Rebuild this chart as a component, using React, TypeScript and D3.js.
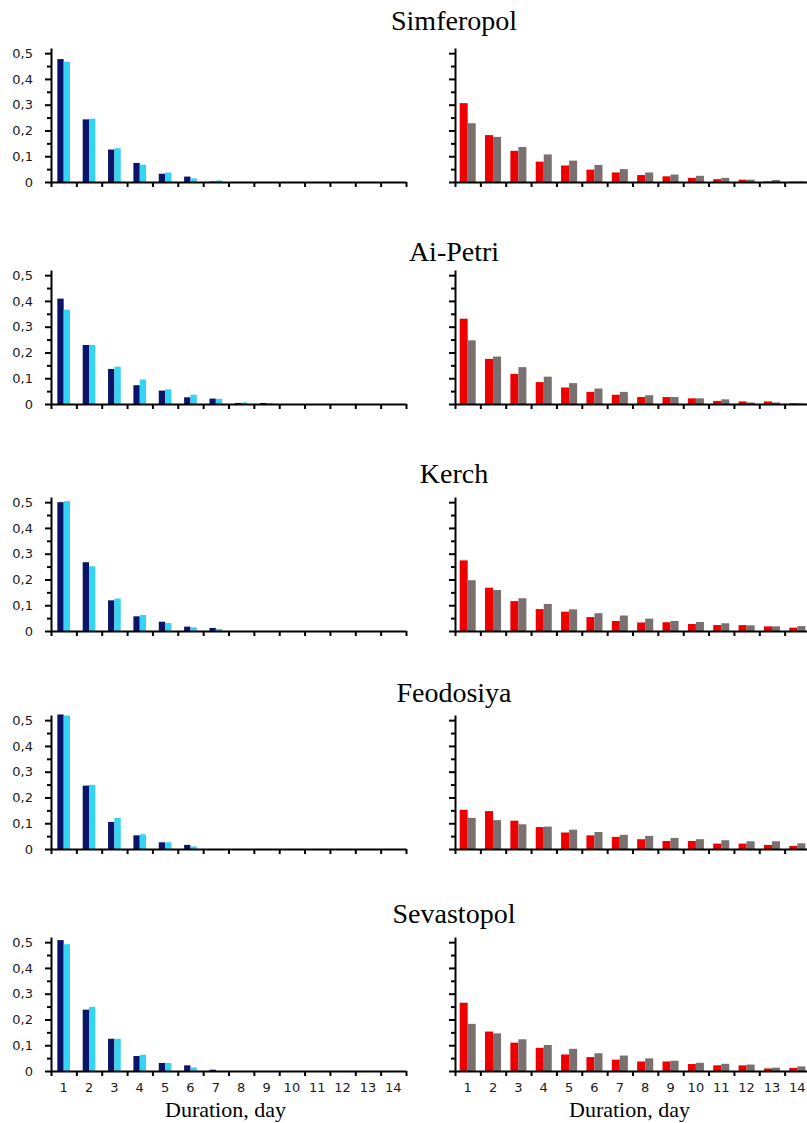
import { useRef, useEffect } from 'react';
import * as d3 from 'd3';

const days = [1, 2, 3, 4, 5, 6, 7, 8, 9, 10, 11, 12, 13, 14];
const stations = ['Simferopol', 'Ai-Petri', 'Kerch', 'Feodosiya', 'Sevastopol'];
const yTicks = [0, 0.05, 0.1, 0.15, 0.2, 0.25, 0.3, 0.35, 0.4, 0.45, 0.5];

// left panels: navy / cyan
const simferopolNavy = [0.477, 0.243, 0.126, 0.074, 0.032, 0.021, 0.002, 0, 0, 0, 0, 0, 0, 0];
const simferopolCyan = [0.467, 0.246, 0.131, 0.067, 0.037, 0.014, 0.006, 0, 0, 0, 0, 0, 0, 0];
const aiPetriNavy = [0.409, 0.229, 0.136, 0.073, 0.052, 0.026, 0.021, 0.004, 0.004, 0, 0, 0, 0, 0];
const aiPetriCyan = [0.366, 0.229, 0.145, 0.095, 0.057, 0.036, 0.02, 0.006, 0.003, 0, 0, 0, 0, 0];
const kerchNavy = [0.5, 0.267, 0.119, 0.057, 0.036, 0.017, 0.012, 0, 0, 0, 0, 0, 0, 0];
const kerchCyan = [0.504, 0.251, 0.126, 0.062, 0.031, 0.014, 0.008, 0, 0, 0, 0, 0, 0, 0];
const feodosiyaNavy = [0.522, 0.246, 0.105, 0.053, 0.026, 0.016, 0, 0, 0, 0, 0, 0, 0, 0];
const feodosiyaCyan = [0.518, 0.249, 0.121, 0.057, 0.026, 0.01, 0, 0, 0, 0, 0, 0, 0, 0];
const sevastopolNavy = [0.508, 0.238, 0.125, 0.058, 0.031, 0.022, 0.005, 0, 0, 0, 0, 0, 0, 0];
const sevastopolCyan = [0.492, 0.249, 0.125, 0.063, 0.031, 0.014, 0, 0, 0, 0, 0, 0, 0, 0];

// right panels: red / gray
const simferopolRed = [0.306, 0.182, 0.121, 0.079, 0.064, 0.048, 0.037, 0.027, 0.022, 0.016, 0.011, 0.009, 0.002, 0.001];
const simferopolGray = [0.228, 0.175, 0.136, 0.107, 0.083, 0.066, 0.05, 0.037, 0.029, 0.024, 0.016, 0.009, 0.008, 0.002];
const aiPetriRed = [0.331, 0.175, 0.117, 0.085, 0.064, 0.047, 0.036, 0.027, 0.027, 0.022, 0.012, 0.01, 0.01, 0.003];
const aiPetriGray = [0.247, 0.184, 0.143, 0.106, 0.081, 0.06, 0.047, 0.034, 0.027, 0.022, 0.018, 0.006, 0.006, 0.002];
const kerchRed = [0.274, 0.168, 0.116, 0.085, 0.075, 0.054, 0.039, 0.033, 0.034, 0.027, 0.023, 0.023, 0.018, 0.013];
const kerchGray = [0.197, 0.159, 0.127, 0.105, 0.084, 0.069, 0.06, 0.048, 0.039, 0.035, 0.03, 0.022, 0.018, 0.019];
const feodosiyaRed = [0.152, 0.147, 0.11, 0.085, 0.064, 0.053, 0.047, 0.038, 0.031, 0.031, 0.021, 0.021, 0.016, 0.012];
const feodosiyaGray = [0.121, 0.112, 0.096, 0.087, 0.075, 0.066, 0.055, 0.051, 0.043, 0.038, 0.034, 0.03, 0.03, 0.022];
const sevastopolRed = [0.265, 0.153, 0.11, 0.09, 0.064, 0.054, 0.044, 0.037, 0.037, 0.027, 0.022, 0.022, 0.01, 0.012];
const sevastopolGray = [0.183, 0.146, 0.123, 0.101, 0.086, 0.069, 0.06, 0.049, 0.04, 0.032, 0.028, 0.025, 0.013, 0.018];

const leftSeries = [
  [simferopolNavy, simferopolCyan],
  [aiPetriNavy, aiPetriCyan],
  [kerchNavy, kerchCyan],
  [feodosiyaNavy, feodosiyaCyan],
  [sevastopolNavy, sevastopolCyan],
];
const rightSeries = [
  [simferopolRed, simferopolGray],
  [aiPetriRed, aiPetriGray],
  [kerchRed, kerchGray],
  [feodosiyaRed, feodosiyaGray],
  [sevastopolRed, sevastopolGray],
];

const W = 807;
const H = 1123;
const rowZero = [182, 404, 631, 849, 1071];
const titleBase = [30, 261, 483, 702, 923];
const panelX = [
  [51, 406],
  [455, 810],
];
const leftColors = ['#0b1468', '#35d3f4'];
const rightColors = ['#ee0000', '#7a7070'];
const fmt = (v: number) => (v === 0 ? '0' : v.toFixed(1).replace('.', ','));

export default function App() {
  const svgRef = useRef<SVGSVGElement>(null);

  function renderChart() {
    const svg = d3.select(svgRef.current);
    svg.selectAll('*').remove();
    svg.attr('viewBox', [0, 0, W, H]);

    stations.forEach((name, r) => {
      const y = d3
        .scaleLinear()
        .domain([0, 0.52])
        .range([rowZero[r], rowZero[r] - 134]);

      svg
        .append('text')
        .attr('x', 454)
        .attr('y', titleBase[r])
        .attr('text-anchor', 'middle')
        .style('font', '28px "Liberation Serif", serif')
        .attr('fill', '#000')
        .text(name);

      [0, 1].forEach(p => {
        const [x0, x1] = panelX[p];
        const series = p === 0 ? leftSeries[r] : rightSeries[r];
        const colors = p === 0 ? leftColors : rightColors;
        const x = d3.scaleBand<number>().domain(days).range([x0, x1]);
        const xs = d3
          .scaleBand<number>()
          .domain([0, 1])
          .range([0, x.bandwidth()])
          .paddingOuter(p === 0 ? 1.0 : 0.58);
        const edge = d3.scaleLinear().domain([0, days.length]).range([x0, x1]);

        const g = svg.append('g');

        // bars
        series.forEach((vals, s) => {
          g.append('g')
            .selectAll('rect')
            .data(days)
            .join('rect')
            .attr('x', d => (x(d) ?? 0) + (xs(s) ?? 0))
            .attr('width', xs.bandwidth())
            .attr('y', (d, i) => y(vals[i]))
            .attr('height', (d, i) => y(0) - y(vals[i]))
            .attr('fill', colors[s]);
        });

        // y axis
        const ya = g
          .append('g')
          .attr('transform', `translate(${x0},0)`)
          .call(
            d3
              .axisLeft(y)
              .tickValues(yTicks)
              .tickSizeInner(6)
              .tickSizeOuter(0)
              .tickFormat(v => (p === 0 && Math.round(+v * 100) % 10 === 0 ? fmt(+v) : '')),
          );
        ya.select('.domain').attr('stroke', '#000').attr('stroke-width', 2);
        ya.selectAll('.tick line')
          .attr('stroke', '#000')
          .attr('stroke-width', 2)
          .attr('x2', (v: any) => (Math.round(v * 100) % 10 === 0 ? -6 : -4));
        ya.selectAll('.tick text')
          .attr('x', -18)
          .attr('fill', '#1a1a1a')
          .style('font', '13px "DejaVu Sans", sans-serif');

        // x axis, ticks at band edges
        const xa = g
          .append('g')
          .attr('transform', `translate(0,${rowZero[r]})`)
          .call(
            d3
              .axisBottom(edge)
              .tickValues(d3.range(0, days.length + 1))
              .tickSizeInner(5)
              .tickSizeOuter(0)
              .tickFormat(() => ''),
          );
        xa.select('.domain').attr('stroke', '#000').attr('stroke-width', 2);
        xa.selectAll('.tick line').attr('stroke', '#000').attr('stroke-width', 2);

        if (r === stations.length - 1) {
          g.append('g')
            .selectAll('text')
            .data(days)
            .join('text')
            .attr('x', d => (x(d) ?? 0) + x.bandwidth() / 2)
            .attr('y', rowZero[r] + 16)
            .attr('text-anchor', 'middle')
            .attr('dominant-baseline', 'central')
            .attr('fill', '#1a1a1a')
            .style('font', '13px "DejaVu Sans", sans-serif')
            .text(d => d);

          g.append('text')
            .attr('x', (x0 + x1) / 2 - 3)
            .attr('y', 1117)
            .attr('text-anchor', 'middle')
            .style('font', '22px "Liberation Serif", serif')
            .attr('fill', '#000')
            .text('Duration, day');
        }
      });
    });
  }

  useEffect(() => {
    renderChart();
    // eslint-disable-next-line react-hooks/exhaustive-deps
  }, []);

  return (
    <div style={{ position: 'absolute', left: 0, top: 0 }}>
      <svg ref={svgRef} width={W} height={H} style={{ display: 'block', background: '#fff' }} />
    </div>
  );
}
